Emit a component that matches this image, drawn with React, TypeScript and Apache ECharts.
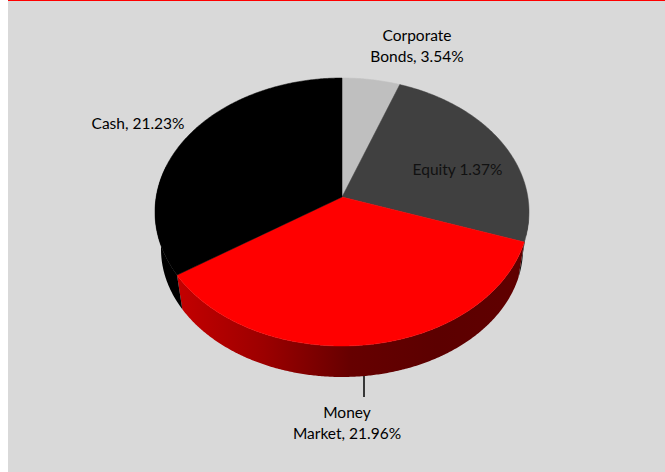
import React, { useEffect, useRef } from "react";
import * as echarts from "echarts";

// Slice order runs clockwise from 12 o'clock.
const categories = ["Corporate Bonds", "Equity", "Money Market", "Cash"];
// Share of the drawn pie, in percent of the circle.
const drawnShares = [5.0, 23.6, 38.6, 32.8];
const labelTexts = ["Corporate\nBonds, 3.54%", "Equity 1.37%", "Money\nMarket, 21.96%", "Cash, 21.23%"];
const sliceColors = ["#bfbfbf", "#404040", "#ff0000", "#000000"];
const sideColors = ["#111111", "#111111", "", "#000000"];

const W = 665;
const H = 472;
const FONT = "Lato";
const apex = { x: 342, y: 197 };
const topE = { cx: 342, cy: 212, rx: 187, ry: 134 };
const botE = { cx: 342, cy: 249, rx: 181, ry: 128 };
const labelSpots = [
  { x: 417, y: 45 },
  { x: 457.5, y: 169 },
  { x: 347, y: 422 },
  { x: 138, y: 123 },
];

const total = drawnShares.reduce((a, b) => a + b, 0);
const startAngle = (i: number) => (drawnShares.slice(0, i).reduce((a, b) => a + b, 0) / total) * 360;

const pt = (e: typeof topE, deg: number): number[] => {
  const t = (deg * Math.PI) / 180;
  return [e.cx + e.rx * Math.sin(t), e.cy - e.ry * Math.cos(t)];
};
const arc = (e: typeof topE, a: number, b: number): number[][] => {
  const n = Math.max(2, Math.ceil(Math.abs(b - a) * 2));
  const out: number[][] = [];
  for (let k = 0; k <= n; k++) out.push(pt(e, a + ((b - a) * k) / n));
  return out;
};

const sideGradient = () =>
  new echarts.graphic.LinearGradient(
    177, 0, 524, 0,
    [
      { offset: 0, color: "#c40000" },
      { offset: 0.25, color: "#9c0000" },
      { offset: 0.5, color: "#660000" },
      { offset: 0.75, color: "#5c0000" },
      { offset: 1, color: "#600000" },
    ],
    true
  );

const renderSide = (params: any, api: any) => {
  const i = params.dataIndex;
  const a = startAngle(i);
  const b = a + (api.value(0) / total) * 360;
  const from = Math.max(a, 92);
  const to = Math.min(b, 290);
  if (to <= from) return null;
  return {
    type: "polygon",
    shape: { points: [...arc(topE, from, to), ...arc(botE, to, from)] },
    style: { fill: sideColors[i] || sideGradient(), stroke: null },
  };
};

const renderTop = (params: any, api: any) => {
  const i = params.dataIndex;
  const a = startAngle(i);
  const b = a + (api.value(0) / total) * 360;
  return {
    type: "polygon",
    shape: { points: [[apex.x, apex.y], ...arc(topE, a, b)] },
    style: { fill: sliceColors[i], stroke: sliceColors[i], lineWidth: 0.5 },
  };
};

export default function App() {
  const ref = useRef<HTMLDivElement>(null);
  useEffect(() => {
    document.body.style.margin = "0";
    document.body.style.overflow = "hidden";
    const chart = echarts.init(ref.current!, null, { renderer: "svg" });
    const data = categories.map((name, i) => ({ name, value: drawnShares[i] }));
    chart.setOption({
      animation: false,
      backgroundColor: "#ffffff",
      series: [
        { type: "custom", name: "side", coordinateSystem: "none", renderItem: renderSide, data, silent: true, z: 2 },
        { type: "custom", name: "top", coordinateSystem: "none", renderItem: renderTop, data, silent: true, z: 3 },
      ],
      graphic: [
        { type: "rect", z: -2, silent: true, shape: { x: 8, y: 0, width: W - 8, height: H }, style: { fill: "#d9d9d9" } },
        { type: "rect", z: -1, silent: true, shape: { x: 8, y: 0, width: W - 8, height: 1 }, style: { fill: "#ff0000" } },
        { type: "line", z: 5, silent: true, shape: { x1: 364, y1: 376, x2: 364, y2: 397 }, style: { stroke: "#000000", lineWidth: 1.5 } },
        ...labelTexts.map((text, i) => ({
          type: "text",
          z: 6,
          silent: true,
          x: labelSpots[i].x,
          y: labelSpots[i].y,
          style: {
            text,
            fill: i === 1 ? "#111111" : "#000000",
            font: `15.5px ${FONT}`,
            lineHeight: 21,
            align: "center",
            verticalAlign: "middle",
          },
        })),
      ],
    });
    return () => chart.dispose();
  }, []);
  return <div ref={ref} style={{ position: "absolute", left: 0, top: 0, width: W, height: H }} />;
}
